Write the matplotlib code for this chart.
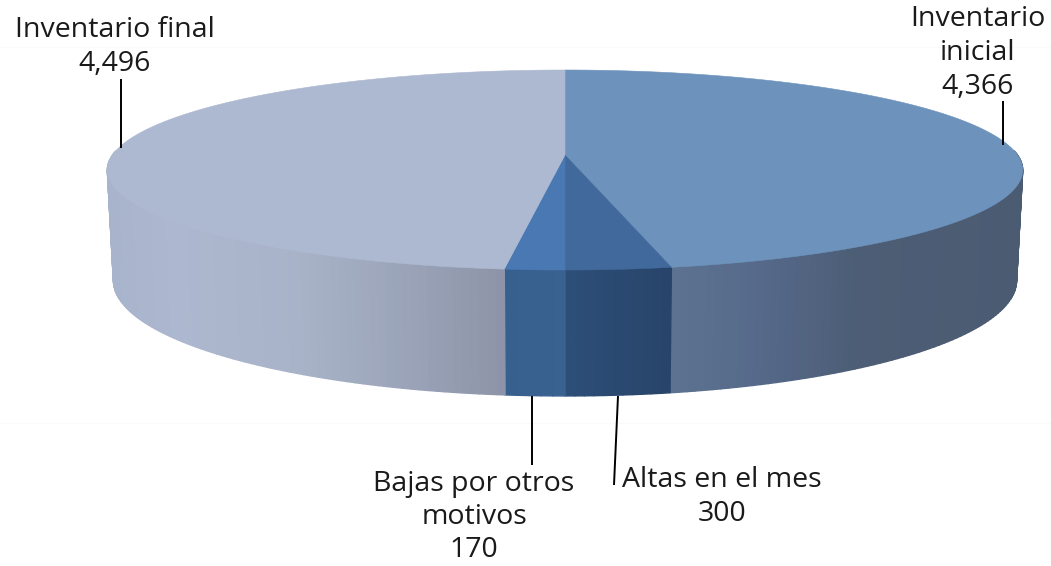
import matplotlib
matplotlib.use('agg')
import matplotlib.pyplot as plt
from matplotlib.collections import PolyCollection
from matplotlib.patches import Polygon
import numpy as np

# Slices run clockwise from 12 o'clock
categories = ['Inventario inicial', 'Altas en el mes', 'Bajas por otros motivos', 'Inventario final']
values = [4366, 300, 170, 4496]
value_labels = ['4,366', '300', '170', '4,496']

top_colors = ['#6D93BD', '#41699C', '#4A78B2', '#ADB9D1']

# Side wall shading, (screen x, colour) stops per slice
wall_stops = [
    ([672, 760, 860, 1022], ['#5D7290', '#56698A', '#4C5D75', '#4B5B72']),
    ([565, 670], ['#2D4E78', '#28446A']),
    ([503, 565], ['#37608F', '#3A6291']),
    ([107, 175, 300, 400, 503], ['#A8B4CB', '#ADB8D0', '#A8B3C8', '#9BA4B9', '#8D94A8']),
]

# Perspective of the disc: top face and bottom face
PERSP = 0.15
CENTER_X = 565
TOP = dict(y0=155, a=97.75, b=452.5)
BOTTOM = dict(y0=263, a=113, b=446.5)


def project(theta, face):
    u = np.sin(theta)
    v = -np.cos(theta)
    w = 1 - PERSP * v
    return CENTER_X + face['b'] * u / w, face['y0'] + face['a'] * v / w


def hex_rgb(c):
    return np.array(matplotlib.colors.to_rgb(c))


def wall_color(x, stops):
    xs, cols = stops
    rgb = np.array([hex_rgb(c) for c in cols])
    return [np.interp(x, xs, rgb[:, i]) for i in range(3)]


figure, axis = plt.subplots(figsize=(10.51, 5.66), dpi=100)
figure.subplots_adjust(left=0, right=1, top=1, bottom=0)
axis.set_xlim(0, 1051)
axis.set_ylim(566, 0)
axis.axis('off')

# Very faint lines in the background
axis.plot([0, 1051], [47, 47], color='#FBFBFB', linewidth=1, zorder=0)
axis.plot([0, 1051], [423, 423], color='#FAFAFA', linewidth=1, zorder=0)

edges = 2 * np.pi * np.concatenate([[0], np.cumsum(values)]) / np.sum(values)

# Walls first, the top face covers the rear part
for i in range(len(values)):
    thetas = np.linspace(edges[i], edges[i + 1], max(int((edges[i + 1] - edges[i]) * 60), 4))
    thetas = thetas[-np.cos(thetas) > -0.05]
    if len(thetas) < 2:
        continue
    quads = []
    colors = []
    for t0, t1 in zip(thetas[:-1], thetas[1:]):
        x0, y0 = project(t0, TOP)
        x1, y1 = project(t1, TOP)
        x2, y2 = project(t1, BOTTOM)
        x3, y3 = project(t0, BOTTOM)
        quads.append([(x0, y0), (x1, y1), (x2, y2), (x3, y3)])
        colors.append(wall_color((x0 + x1) / 2, wall_stops[i]))
    axis.add_collection(PolyCollection(quads, facecolors=colors, edgecolors=colors,
        linewidths=1.0, zorder=2))

for i in range(len(values)):
    thetas = np.linspace(edges[i], edges[i + 1], 300)
    xs, ys = project(thetas, TOP)
    points = [(CENTER_X, TOP['y0'])] + list(zip(xs, ys))
    axis.add_patch(Polygon(points, closed=True, facecolor=top_colors[i],
        edgecolor=top_colors[i], linewidth=0.4, zorder=3))

# Leader lines
leaders = [
    ([1003, 1003], [101, 145]),
    ([618, 614], [396, 485]),
    ([532, 532], [396, 465]),
    ([121, 121], [79, 148]),
]
for lx, ly in leaders:
    axis.plot(lx, ly, color='black', linewidth=1.4, zorder=4, solid_capstyle='butt')

label_lines = [
    ['Inventario', 'inicial', value_labels[0]],
    ['Altas en el mes', value_labels[1]],
    ['Bajas por otros', 'motivos', value_labels[2]],
    ['Inventario final', value_labels[3]],
]
# Centre x and first baseline of each label
label_pos = [(978, 26), (722, 487), (474, 491), (115, 37)]
line_steps = [34, 34, 33, 34]

for lines, (tx, ty), step in zip(label_lines, label_pos, line_steps):
    for n, line in enumerate(lines):
        axis.text(tx, ty + n * step, line, ha='center', va='baseline',
            fontsize=20.5, family='Open Sans', color='#1A1A1A', zorder=5)

figure.savefig('out.png', dpi=100)
plt.close(figure)
